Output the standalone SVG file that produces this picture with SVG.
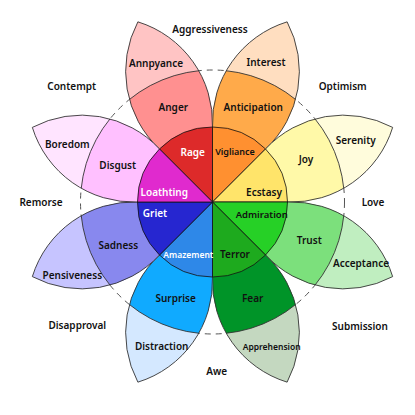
<svg xmlns="http://www.w3.org/2000/svg" xmlns:xlink="http://www.w3.org/1999/xlink" width="415" height="415" viewBox="0 0 415 415">
<style>
text{font-family:"Noto Sans","DejaVu Sans",sans-serif;font-size:10px;font-weight:600;text-anchor:middle;dominant-baseline:central;fill:#111}
.w{fill:#fff}
.s{font-size:8.5px}
.edge{fill:none;stroke:#333;stroke-width:0.8}
.ring{fill:none;stroke:#333;stroke-width:0.8}
.sec{stroke:#111;stroke-width:0.8}
</style>
<defs>
<path id="petal" d="M28.70,-69.29 A106,106 0 0 0 0,-195 A106,106 0 0 0 -28.70,-69.29 L0,0 Z"/>
<clipPath id="mid"><circle r="132"/></clipPath>
<clipPath id="pc"><use xlink:href="#petal"/></clipPath>
</defs>
<rect width="415" height="415" fill="#fff"/>
<g transform="translate(212.5,202)">
<g id="connectors">
<circle r="132" fill="none" stroke="#555" stroke-width="1" stroke-dasharray="6,5"/>
</g>
<g id="anger" transform="rotate(-22.5)">
<use xlink:href="#petal" fill="#FFC4C4"/><use xlink:href="#petal" fill="#FF9090" clip-path="url(#mid)"/>
<circle r="132" class="ring" clip-path="url(#pc)"/><use xlink:href="#petal" class="edge"/></g>
<g id="anticipation" transform="rotate(22.5)">
<use xlink:href="#petal" fill="#FFDEC0"/><use xlink:href="#petal" fill="#FFAA4A" clip-path="url(#mid)"/>
<circle r="132" class="ring" clip-path="url(#pc)"/><use xlink:href="#petal" class="edge"/></g>
<g id="joy" transform="rotate(67.5)">
<use xlink:href="#petal" fill="#FFFCDC"/><use xlink:href="#petal" fill="#FFF9A8" clip-path="url(#mid)"/>
<circle r="132" class="ring" clip-path="url(#pc)"/><use xlink:href="#petal" class="edge"/></g>
<g id="trust" transform="rotate(112.5)">
<use xlink:href="#petal" fill="#C0EEC0"/><use xlink:href="#petal" fill="#7CE07C" clip-path="url(#mid)"/>
<circle r="132" class="ring" clip-path="url(#pc)"/><use xlink:href="#petal" class="edge"/></g>
<g id="fear" transform="rotate(157.5)">
<use xlink:href="#petal" fill="#C4D8C0"/><use xlink:href="#petal" fill="#009428" clip-path="url(#mid)"/>
<circle r="132" class="ring" clip-path="url(#pc)"/><use xlink:href="#petal" class="edge"/></g>
<g id="surprise" transform="rotate(-157.5)">
<use xlink:href="#petal" fill="#D4E8FF"/><use xlink:href="#petal" fill="#10AAFF" clip-path="url(#mid)"/>
<circle r="132" class="ring" clip-path="url(#pc)"/><use xlink:href="#petal" class="edge"/></g>
<g id="sadness" transform="rotate(-112.5)">
<use xlink:href="#petal" fill="#C6C4FF"/><use xlink:href="#petal" fill="#8888EE" clip-path="url(#mid)"/>
<circle r="132" class="ring" clip-path="url(#pc)"/><use xlink:href="#petal" class="edge"/></g>
<g id="disgust" transform="rotate(-67.5)">
<use xlink:href="#petal" fill="#FFE4FF"/><use xlink:href="#petal" fill="#FFC0FF" clip-path="url(#mid)"/>
<circle r="132" class="ring" clip-path="url(#pc)"/><use xlink:href="#petal" class="edge"/></g>
</g>
<g id="core">
<path id="rage" class="sec" fill="#DD2A2A" d="M212.5,202 L212.5,127 A75,75 0 0 0 159.47,148.97 Z"/>
<path id="vigilance" class="sec" fill="#FF9030" d="M212.5,202 L265.53,148.97 A75,75 0 0 0 212.5,127 Z"/>
<path id="ecstasy" class="sec" fill="#FFE46A" d="M212.5,202 L287.5,202 A75,75 0 0 0 265.53,148.97 Z"/>
<path id="admiration" class="sec" fill="#26D026" d="M212.5,202 L265.53,255.03 A75,75 0 0 0 287.5,202 Z"/>
<path id="terror" class="sec" fill="#1EAA1E" d="M212.5,202 L212.5,277 A75,75 0 0 0 265.53,255.03 Z"/>
<path id="amazement" class="sec" fill="#2E88E8" d="M212.5,202 L159.47,255.03 A75,75 0 0 0 212.5,277 Z"/>
<path id="grief" class="sec" fill="#2626D0" d="M212.5,202 L137.5,202 A75,75 0 0 0 159.47,255.03 Z"/>
<path id="loathing" class="sec" fill="#E02ACE" d="M212.5,202 L159.47,148.97 A75,75 0 0 0 137.5,202 Z"/>
</g>
<g id="labels">
<text x="192.7" y="151.7" class="w">Rage</text>
<text x="235" y="151.7" style="font-size:9px">Vigliance</text>
<text x="164.3" y="191.7" class="w">Loathting</text>
<text x="264" y="192.3">Ecstasy</text>
<text x="155" y="213.3" class="w">Griet</text>
<text x="261.7" y="214" style="font-size:9.5px">Admiration</text>
<text x="188.3" y="254" class="w s">Amazement</text>
<text x="235" y="254">Terror</text>
<text x="173.3" y="106.7">Anger</text>
<text x="253.3" y="106.7">Anticipation</text>
<text x="156" y="62.7">Annpyance</text>
<text x="266" y="61.7">Interest</text>
<text x="210" y="29">Aggressiveness</text>
<text x="306" y="159.3">Joy</text>
<text x="355.7" y="140">Serenity</text>
<text x="373" y="201.7">Love</text>
<text x="309.3" y="240">Trust</text>
<text x="361" y="263.3">Acceptance</text>
<text x="67.3" y="144">Boredom</text>
<text x="117.7" y="165">Disgust</text>
<text x="41" y="201.7">Remorse</text>
<text x="118.3" y="245.3">Sadness</text>
<text x="72.3" y="274.7">Pensiveness</text>
<text x="175.7" y="298">Surprise</text>
<text x="252.7" y="298">Fear</text>
<text x="161.7" y="345.7">Distraction</text>
<text x="271.7" y="346" class="s">Apprehension</text>
<text x="216.7" y="371">Awe</text>
<text x="71.7" y="85.7">Contempt</text>
<text x="342.7" y="85.7">Optimism</text>
<text x="77.3" y="325">Disapproval</text>
<text x="360" y="326">Submission</text>
</g>
</svg>
